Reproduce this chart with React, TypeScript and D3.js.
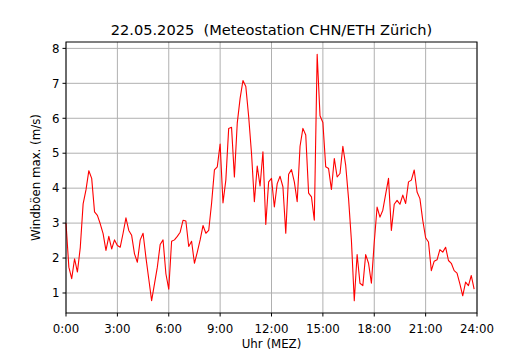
import * as d3 from "d3";

const WIDTH = 530;
const HEIGHT = 350;
const MARGIN = { top: 42, right: 53, bottom: 37, left: 66 };
const INNER_W = WIDTH - MARGIN.left - MARGIN.right;
const INNER_H = HEIGHT - MARGIN.top - MARGIN.bottom;

const TITLE = "22.05.2025  (Meteostation CHN/ETH Zürich)";
const X_LABEL = "Uhr (MEZ)";
const Y_LABEL = "Windböen max. (m/s)";

// hour positions of the x ticks and their labels
const X_TICKS = [0, 3, 6, 9, 12, 15, 18, 21, 24];
const X_TICK_LABELS = ["0:00", "3:00", "6:00", "9:00", "12:00", "15:00", "18:00", "21:00", "24:00"];
const Y_TICKS = [1, 2, 3, 4, 5, 6, 7, 8];

// 10-minute max gusts (m/s), 0:00 .. 23:50
const STEP_MIN = 10;
const gusts = [
  3.0, 1.74, 1.41, 1.98, 1.6, 2.3, 3.55, 3.95, 4.5, 4.28, 3.32, 3.22,
  2.98, 2.7, 2.22, 2.62, 2.26, 2.52, 2.36, 2.31, 2.71, 3.15, 2.79, 2.65,
  2.12, 1.88, 2.52, 2.71, 2.02, 1.4, 0.78, 1.26, 1.74, 2.39, 2.52, 1.55,
  1.11, 2.48, 2.52, 2.62, 2.74, 3.08, 3.06, 2.33, 2.48, 1.85, 2.17, 2.52,
  2.93, 2.71, 2.79, 3.56, 4.52, 4.61, 5.26, 3.58, 4.23, 5.71, 5.74, 4.32,
  5.86, 6.57, 7.08, 6.91, 6.05, 4.99, 3.61, 4.63, 4.06, 5.04, 2.96, 4.18,
  4.28, 3.46, 4.13, 4.34, 4.04, 2.71, 4.4, 4.53, 4.18, 3.61, 5.2, 5.71,
  5.52, 3.86, 3.75, 3.08, 7.83, 6.07, 5.88, 4.61, 4.56, 3.96, 4.85, 4.32,
  4.42, 5.2, 4.65, 3.7, 2.5, 0.78, 2.1, 1.28, 1.21, 2.1, 1.85, 1.28,
  2.45, 3.46, 3.17, 3.37, 3.83, 4.28, 2.79, 3.54, 3.65, 3.54, 3.8, 3.56,
  4.18, 4.23, 4.52, 3.89, 3.7, 3.08, 2.58, 2.46, 1.64, 1.91, 1.95, 2.24,
  2.17, 2.31, 1.93, 1.85, 1.64, 1.57, 1.26, 0.92, 1.31, 1.21, 1.5, 1.11,
];

const FONT = "'DejaVu Sans', sans-serif";

export default function App() {
  const x = d3.scaleLinear().domain([0, 24]).range([0, INNER_W]);

  // matplotlib-style 5% padding around the data range
  const [lo, hi] = d3.extent(gusts) as [number, number];
  const pad = (hi - lo) * 0.05;
  const y = d3.scaleLinear().domain([lo - pad, hi + pad]).range([INNER_H, 0]);

  const line = d3
    .line<number>()
    .x((_, i) => x((i * STEP_MIN) / 60))
    .y((d) => y(d));

  return (
    <div style={{ position: "absolute", left: 0, top: 0 }}>
      <svg width={WIDTH} height={HEIGHT} style={{ display: "block", background: "#fff" }} fontFamily={FONT}>
        <text
          x={MARGIN.left + INNER_W / 2}
          y={34.5}
          textAnchor="middle"
          fontSize={14.6}
          fill="#000"
          style={{ whiteSpace: "pre" }}
        >
          {TITLE}
        </text>

        <g transform={`translate(${MARGIN.left},${MARGIN.top})`}>
          {/* grid */}
          {X_TICKS.map((t) => (
            <line key={`gx${t}`} x1={x(t)} x2={x(t)} y1={0} y2={INNER_H} stroke="#b0b0b0" strokeWidth={1} />
          ))}
          {Y_TICKS.map((t) => (
            <line key={`gy${t}`} x1={0} x2={INNER_W} y1={y(t)} y2={y(t)} stroke="#b0b0b0" strokeWidth={1} />
          ))}

          <path d={line(gusts) ?? ""} fill="none" stroke="#ff0000" strokeWidth={1.1} strokeLinejoin="round" />

          {/* frame */}
          <rect x={0} y={0} width={INNER_W} height={INNER_H} fill="none" stroke="#000" strokeWidth={1} />

          {/* x axis */}
          {X_TICKS.map((t, i) => (
            <g key={`tx${t}`} transform={`translate(${x(t)},${INNER_H})`}>
              <line y1={0} y2={3.5} stroke="#000" strokeWidth={1} />
              <text y={20} textAnchor="middle" fontSize={11.8} fill="#000">
                {X_TICK_LABELS[i]}
              </text>
            </g>
          ))}

          {/* y axis */}
          {Y_TICKS.map((t) => (
            <g key={`ty${t}`} transform={`translate(0,${y(t)})`}>
              <line x1={0} x2={-3.5} stroke="#000" strokeWidth={1} />
              <text x={-6.5} dy="0.36em" textAnchor="end" fontSize={11.8} fill="#000">
                {t}
              </text>
            </g>
          ))}

          <text x={INNER_W / 2} y={INNER_H + 34.5} textAnchor="middle" fontSize={11.8} fill="#000">
            {X_LABEL}
          </text>
          <text
            transform={`translate(${-26},${INNER_H / 2}) rotate(-90)`}
            textAnchor="middle"
            fontSize={11.8}
            fill="#000"
          >
            {Y_LABEL}
          </text>
        </g>
      </svg>
    </div>
  );
}
